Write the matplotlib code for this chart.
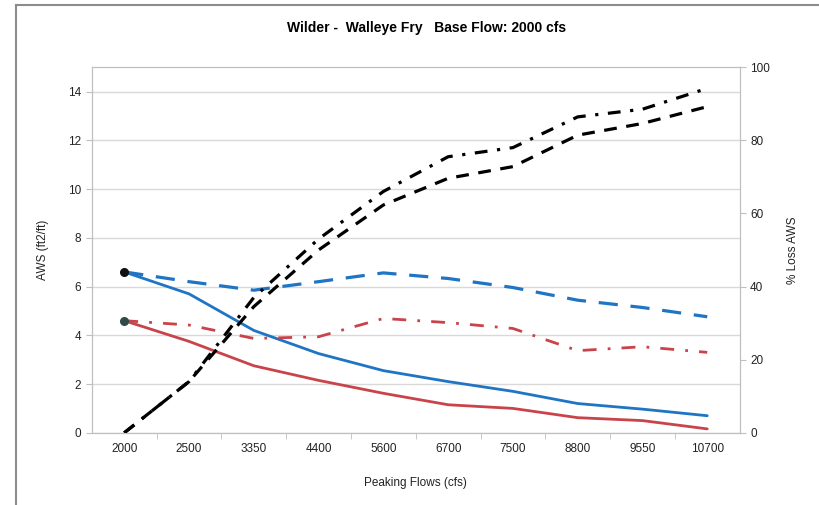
import matplotlib
matplotlib.use("Agg")
import matplotlib.pyplot as plt
from matplotlib.lines import Line2D

plt.rcParams['font.family'] = ['Liberation Sans', 'DejaVu Sans']

# Peaking flows (categories)
flows = ['2000', '2500', '3350', '4400', '5600', '6700', '7500', '8800', '9550', '10700']

# AWS (ft2/ft) - left axis
aws_blue = [6.6, 5.7, 4.2, 3.25, 2.55, 2.1, 1.7, 1.2, 0.97, 0.7]
aws_red = [4.6, 3.75, 2.75, 2.15, 1.62, 1.15, 1.0, 0.62, 0.5, 0.16]
aws_blue_dash = [6.6, 6.2, 5.85, 6.2, 6.56, 6.33, 5.96, 5.44, 5.14, 4.76]
aws_red_dashdot = [4.6, 4.42, 3.87, 3.94, 4.69, 4.52, 4.28, 3.37, 3.53, 3.3]

# % Loss AWS - right axis
loss_dashdot = [0, 14, 37, 53, 66, 75.5, 78, 86.4, 88.5, 94.2]
loss_dash = [0, 14, 34.5, 50, 62.3, 69.6, 72.8, 81.4, 84.6, 89.2]

blue = '#1f74c4'
red = '#c9444a'
x = list(range(len(flows)))

fig = plt.figure(figsize=(8.2, 5.05), dpi=100)
ax = fig.add_axes([0.112, 0.143, 0.79, 0.724])
ax2 = ax.twinx()

ax.set_ylim(0, 15)
ax.set_yticks(range(0, 15, 2))
ax2.set_ylim(0, 100)
ax2.set_yticks(range(0, 101, 20))
ax.set_xlim(-0.5, len(flows) - 0.5)
ax.set_xticks(x)
ax.set_xticklabels(flows)
ax.set_xticks([i + 0.5 for i in x[:-1]], minor=True)

ax.grid(axis='y', color='#d9d9d9', lw=1)
ax.set_axisbelow(True)

ax.plot(x, aws_blue, color=blue, lw=2, solid_capstyle='round', zorder=3)
ax.plot(x, aws_red, color=red, lw=2, solid_capstyle='round', zorder=3)
ax.plot(x, aws_blue_dash, color=blue, lw=2.3, dashes=(6, 4), zorder=3)
ax.plot(x, aws_red_dashdot, color=red, lw=2, dashes=(5, 4, 1, 4), zorder=3)
ax.plot([x[0]], [aws_blue[0]], 'o', color='#111111', ms=5.5, zorder=5)
ax.plot([x[0]], [aws_red[0]], 'o', color='#2f4a48', ms=5.5, zorder=5)

ax2.plot(x, loss_dashdot, color='black', lw=2.3, dashes=(4, 3, 1, 3))
ax2.plot(x, loss_dash, color='black', lw=2.3, dashes=(4, 3))

for a in (ax, ax2):
    for s in a.spines.values():
        s.set_color('#bfbfbf')
    a.tick_params(colors='#bfbfbf', labelcolor='#222222', labelsize=8.5, length=4)
ax.tick_params(axis='x', which='major', length=0, pad=7)
ax.tick_params(axis='x', which='minor', length=4, color='#bfbfbf')

ax.set_ylabel('AWS (ft2/ft)', fontsize=8.5, color='#222222', labelpad=14)
ax2.set_ylabel('% Loss AWS', fontsize=8.5, color='#222222', labelpad=12)
ax.set_xlabel('Peaking Flows (cfs)', fontsize=8.5, color='#222222', labelpad=16)
fig.text(0.52, 0.945, 'Wilder -  Walleye Fry   Base Flow: 2000 cfs',
         ha='center', va='center', fontsize=10, fontweight='bold')

# outer chart border (top and left visible)
fig.add_artist(Line2D([16 / 820, 16 / 820], [0, 1 - 5 / 505], transform=fig.transFigure,
                      color='#8c8c8c', lw=1.5))
fig.add_artist(Line2D([16 / 820, 1], [1 - 5 / 505, 1 - 5 / 505], transform=fig.transFigure,
                      color='#8c8c8c', lw=1.5))

fig.savefig('out.png', dpi=100)
